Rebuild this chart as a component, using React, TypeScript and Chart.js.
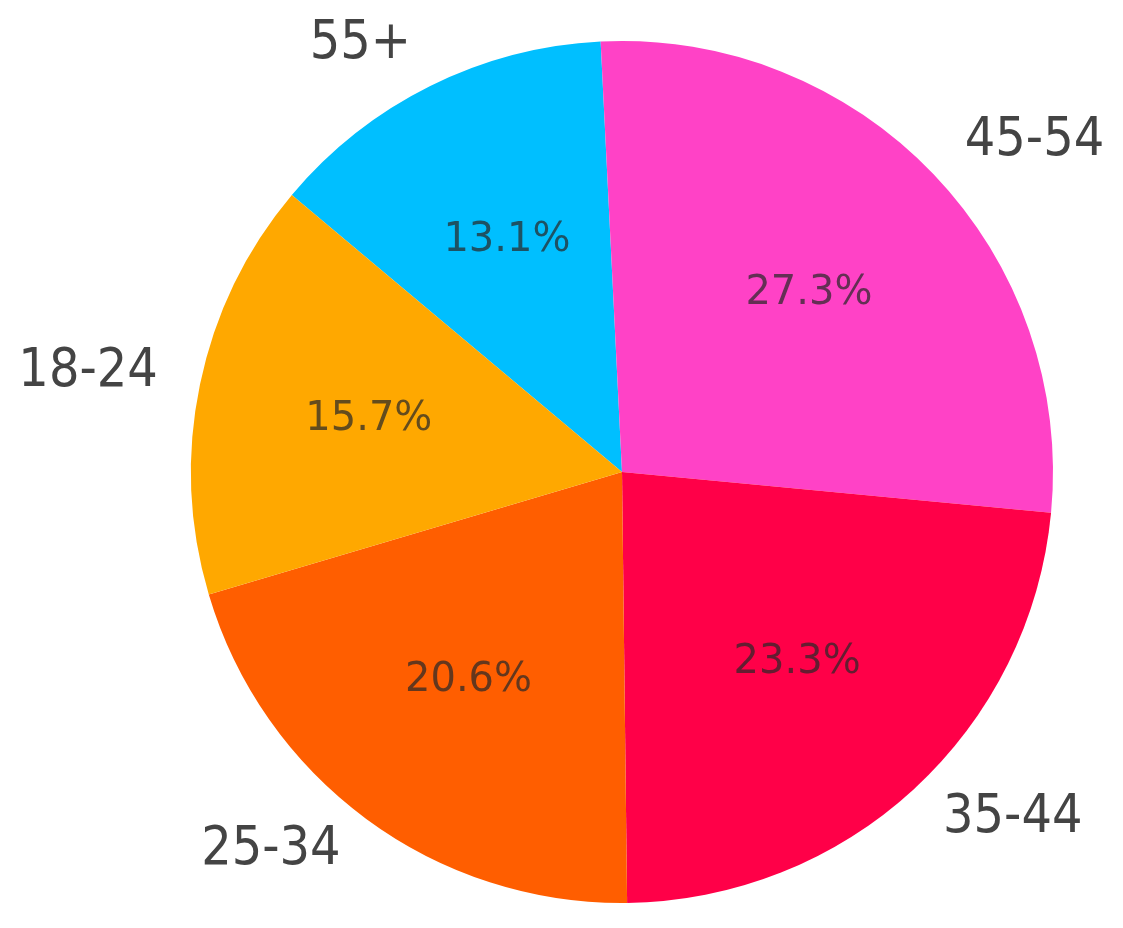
import React, { useEffect, useRef } from "react";
import { Chart, registerables } from "chart.js";

Chart.register(...registerables);

const categories = ["18-24", "25-34", "35-44", "45-54", "55+"];
const shares = [15.7, 20.6, 23.3, 27.3, 13.1];
const sliceColors = ["#FFA800", "#FF5E00", "#FF0048", "#FF42C6", "#00BFFF"];
const START_ANGLE = 140; // counter-clockwise start, degrees from 3 o'clock

const W = 1123;
const H = 928;

const labelPlugin = {
  id: "pieLabels",
  afterDatasetsDraw(chart: any) {
    const ctx = chart.ctx;
    const meta = chart.getDatasetMeta(0);
    const labels = chart.data.labels as string[];
    const values = chart.data.datasets[0].data as number[];
    const total = values.reduce((a, b) => a + b, 0);
    ctx.save();
    meta.data.forEach((arc: any, i: number) => {
      const p = arc.getProps(["x", "y", "startAngle", "endAngle", "outerRadius"], true);
      const mid = (p.startAngle + p.endAngle) / 2;
      const c = Math.cos(mid);
      const s = Math.sin(mid);
      // outer category label
      const lx = p.x + c * p.outerRadius * 1.1;
      const ly = p.y + s * p.outerRadius * 1.1;
      ctx.font = '48px "DejaVu Sans"';
      ctx.fillStyle = "#444444";
      ctx.textAlign = c >= 0 ? "left" : "right";
      ctx.textBaseline = "middle";
      ctx.save();
      ctx.translate(lx, ly - 3);
      ctx.scale(1, 1.1);
      ctx.fillText(labels[i], 0, 0);
      ctx.restore();
      // percent label
      const px = p.x + c * p.outerRadius * 0.6;
      const py = p.y + s * p.outerRadius * 0.6;
      ctx.font = '40px "DejaVu Sans"';
      ctx.fillStyle = "rgba(40,40,40,0.72)";
      ctx.textAlign = "center";
      ctx.textBaseline = "middle";
      ctx.fillText(((values[i] / total) * 100).toFixed(1) + "%", px, py);
    });
    ctx.restore();
  },
};

export default function App() {
  const ref = useRef<HTMLCanvasElement | null>(null);
  useEffect(() => {
    if (!ref.current) return;
    // Chart.js draws clockwise; reverse order to mimic a counter-clockwise pie.
    const labels = [...categories].reverse();
    const data = [...shares].reverse();
    const colors = [...sliceColors].reverse();
    const chart = new Chart(ref.current, {
      type: "pie",
      data: {
        labels,
        datasets: [
          {
            data,
            backgroundColor: colors,
            borderWidth: 0,
          },
        ],
      },
      options: {
        responsive: false,
        animation: false,
        rotation: 90 - START_ANGLE,
        layout: { padding: { left: 191, right: 70, top: 41, bottom: 25 } },
        plugins: {
          legend: { display: false },
          tooltip: { enabled: false },
        },
      },
      plugins: [labelPlugin],
    });
    return () => chart.destroy();
  }, []);
  return (
    <div style={{ position: "fixed", left: 0, top: 0, width: W, height: H, background: "#fff" }}>
      <canvas ref={ref} width={W} height={H} style={{ width: W, height: H, display: "block" }} />
    </div>
  );
}
